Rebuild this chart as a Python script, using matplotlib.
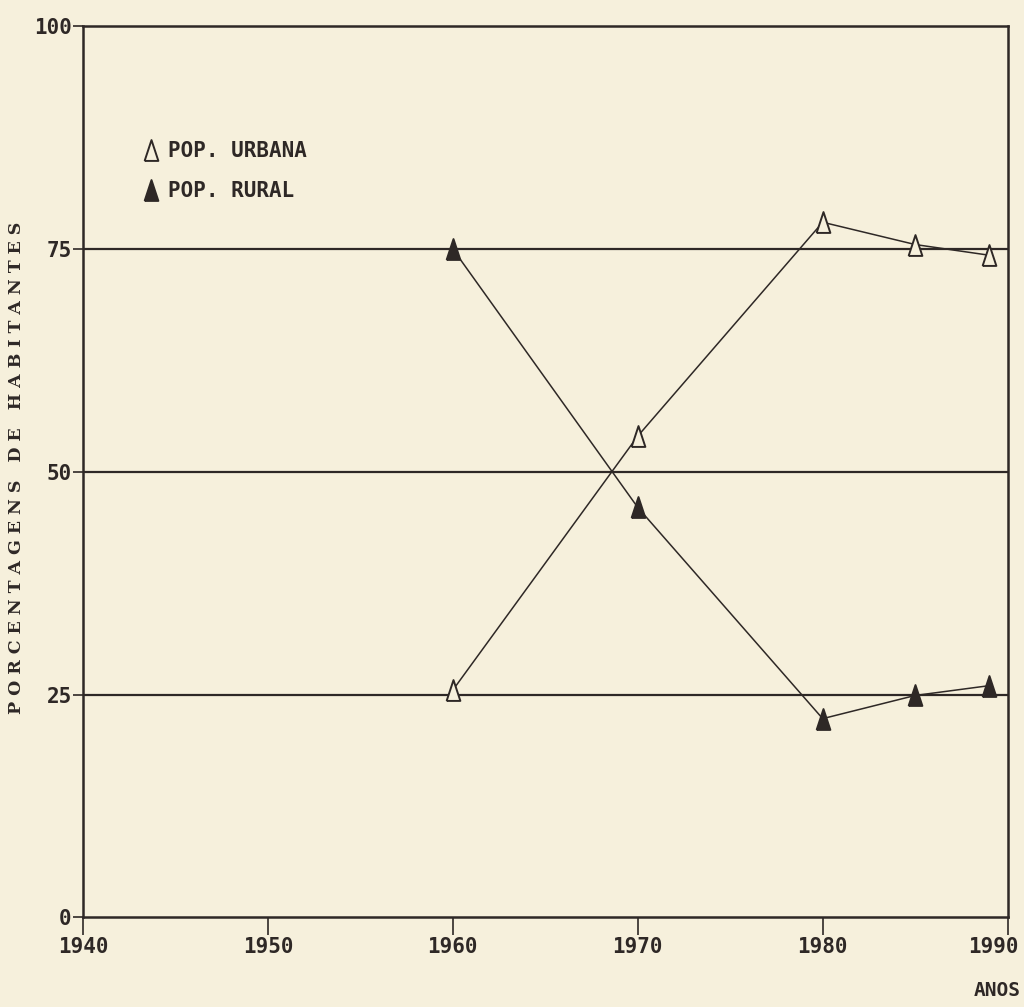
import matplotlib
matplotlib.use("Agg")
import matplotlib.pyplot as plt
from matplotlib.lines import Line2D
from matplotlib.transforms import ScaledTranslation

years = [1960, 1970, 1980, 1985, 1989]
urbana = [25.5, 54.0, 78.0, 75.5, 74.3]
rural = [75.0, 46.0, 22.3, 24.9, 26.0]
x_ticks = [1940, 1950, 1960, 1970, 1980, 1990]
y_ticks = [0, 25, 50, 75, 100]
y_tick_labels = ["0", "25", "50", "75", "100"]

bg = "#f6f0dc"
ink = "#2e2826"

fig = plt.figure(figsize=(10.24, 10.07), dpi=100, facecolor=bg)
ax = fig.add_axes([0.081, 0.089, 0.903, 0.885], facecolor=bg)

mono = "DejaVu Sans Mono"
tri = [(-0.33, -0.5), (0.33, -0.5), (0.0, 0.5), (-0.33, -0.5)]
msize = 15

for yv in [25, 50, 75]:
    ax.axhline(yv, color=ink, lw=1.6, zorder=1)

ax.plot(years, urbana, color=ink, lw=1.1, marker=tri, markersize=msize,
        markerfacecolor=bg, markeredgecolor=ink, markeredgewidth=1.4, zorder=3)
ax.plot(years, rural, color=ink, lw=1.1, marker=tri, markersize=msize,
        markerfacecolor=ink, markeredgecolor=ink, markeredgewidth=1.4, zorder=3)

ax.set_xlim(1940, 1990)
ax.set_ylim(0, 100)
ax.set_xticks(x_ticks)
ax.set_xticklabels([str(v) for v in x_ticks], fontfamily=mono, fontweight="bold", fontsize=15, color=ink)
ax.set_yticks(y_ticks)
ax.set_yticklabels(y_tick_labels, fontfamily=mono, fontweight="bold", fontsize=15, color=ink)
ax.tick_params(axis="x", direction="out", length=13, width=1.2, color=ink, pad=1)
ax.tick_params(axis="y", direction="out", length=7, width=1.2, color=ink, pad=1)
last = ax.get_xticklabels()[-1]
last.set_transform(last.get_transform() + ScaledTranslation(-0.14, 0, fig.dpi_scale_trans))
for s in ax.spines.values():
    s.set_color(ink)
    s.set_linewidth(1.8)

fig.text(17 / 1024, 1 - 468 / 1007, "P O R C E N T A G E N S   D E   H A B I T A N T E S",
         rotation=90, ha="center", va="center",
         fontfamily="DejaVu Serif", fontweight="bold", fontsize=12.5, color=ink)
fig.text(1021 / 1024, 1 - 990 / 1007, "ANOS", ha="right", va="center",
         fontfamily=mono, fontweight="bold", fontsize=14, color=ink)

handles = [
    Line2D([], [], ls="none", marker=tri, markersize=msize, markerfacecolor=bg,
           markeredgecolor=ink, markeredgewidth=1.4),
    Line2D([], [], ls="none", marker=tri, markersize=msize, markerfacecolor=ink,
           markeredgecolor=ink, markeredgewidth=1.4),
]
leg = ax.legend(handles, ["POP. URBANA", "POP. RURAL"], loc="upper left",
                bbox_to_anchor=(0.047, 0.892), frameon=False, handlelength=0.6,
                handletextpad=0.5, labelspacing=0.95,
                prop={"family": mono, "weight": "bold", "size": 15})
for t in leg.get_texts():
    t.set_color(ink)

fig.savefig("out.png", dpi=100, facecolor=bg)
